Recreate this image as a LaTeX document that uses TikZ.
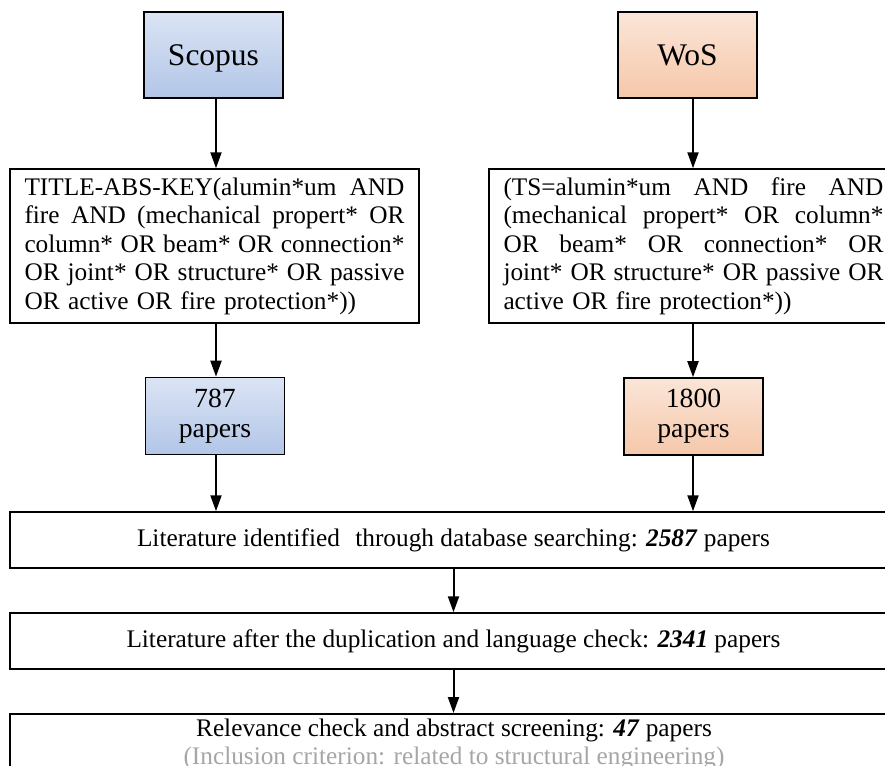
\documentclass[tikz,border=0pt]{standalone}
\usepackage{fontspec}
\setmainfont{Liberation Serif}
\usetikzlibrary{arrows.meta}
\definecolor{bluetop}{HTML}{EFF3FA}
\definecolor{bluedark}{HTML}{A9BFE5}
\definecolor{bluebot}{HTML}{BACCEA}
\definecolor{orgtop}{HTML}{FEF4EF}
\definecolor{orgdark}{HTML}{F4C19F}
\definecolor{orgbot}{HTML}{F7CFB5}
\definecolor{critgray}{HTML}{A6A6A6}
\pgfdeclareverticalshading{blueshade}{100bp}{color(0bp)=(bluebot); color(14bp)=(bluedark); color(100bp)=(bluetop)}
\pgfdeclareverticalshading{orgshade}{100bp}{color(0bp)=(orgbot); color(14bp)=(orgdark); color(100bp)=(orgtop)}
\newcommand\jline[1]{\makebox[380pt][s]{\spaceskip=0pt\xspaceskip=0pt\relax #1}}
\begin{document}
\begin{tikzpicture}[x=1pt,y=-1pt,
  srcbox/.style={draw=black, line width=1.6pt, minimum width=139pt, minimum height=86pt, inner sep=0pt,
    font=\fontsize{31.5}{34}\selectfont, text depth=0pt},
  bluefill/.style={shade, shading=blueshade},
  orgfill/.style={shade, shading=orgshade},
  qbox/.style={draw=black, line width=1.5pt, text width=380pt, inner xsep=14.5pt, inner ysep=0pt,
    minimum height=154pt, align=left, font=\fontsize{25.3}{28.5}\selectfont},
  cntbox/.style={draw=black, line width=1.6pt, minimum width=139pt, minimum height=77pt, inner sep=0pt,
    align=center, font=\fontsize{27.7}{30}\selectfont},
  widebox/.style={draw=black, line width=1.5pt, minimum width=887pt, minimum height=56pt, inner sep=0pt,
    font=\fontsize{25.3}{28}\selectfont},
  txt/.style={inner sep=0pt, font=\fontsize{25.3}{28}\selectfont},
  arr/.style={line width=2pt, -{Triangle[length=16pt,width=11pt]}}]
\path[use as bounding box] (0,0) rectangle (885,765);
\clip (0,0) rectangle (885,765);
% source boxes
\node[srcbox, bluefill] (scopus) at (213.5,55) {Scopus};
\node[srcbox, orgfill] (wos) at (687.5,55) {WoS};
% query boxes
\node[qbox] (q1) at (214.5,246) {\jline{TITLE-ABS-KEY(alumin*um AND}\\
\jline{fire AND (mechanical propert* OR}\\
\jline{column* OR beam* OR connection*}\\
\jline{OR joint* OR structure* OR passive}\\
OR active OR fire protection*))};
\node[qbox] (q2) at (693.5,246) {\jline{(TS=alumin*um AND fire AND}\\
\jline{(mechanical propert* OR column*}\\
\jline{OR beam* OR connection* OR}\\
\jline{joint* OR structure* OR passive OR}\\
active OR fire protection*))};
% count boxes
\node[cntbox, bluefill] (n787) at (215,416) {787\\papers};
\node[cntbox, orgfill] (n1800) at (693.5,416.5) {1800\\papers};
% wide boxes
\node[widebox] (lit1) at (453.5,540) {Literature identified\hspace{9pt} through database searching: \textbf{\textit{2587}} papers};
\node[widebox] (lit2) at (453.5,641) {Literature after the duplication and language check: \textbf{\textit{2341}} papers};
\node[widebox, minimum height=120pt, anchor=north] (lit3) at (453.5,713) {};
\node[txt, anchor=base] (lit3a) at (454,736) {Relevance check and abstract screening: \textbf{\textit{47}} papers};
\node[txt, anchor=base, text=critgray] (lit3b) at (454,764.5) {(Inclusion criterion: related to structural engineering)};
% arrow columns
\coordinate (cx1) at (216,0);
\coordinate (cx2) at (693,0);
\draw[arr] (scopus.south -| cx1) -- (q1.north -| cx1);
\draw[arr] (q1.south -| cx1) -- (n787.north -| cx1);
\draw[arr] (n787.south -| cx1) -- (lit1.north -| cx1);
\draw[arr] (wos.south -| cx2) -- (q2.north -| cx2);
\draw[arr] (q2.south -| cx2) -- (n1800.north -| cx2);
\draw[arr] (n1800.south -| cx2) -- (lit1.north -| cx2);
\draw[arr] (lit1.south) -- (lit2.north);
\draw[arr] (lit2.south) -- (lit3.north);
\end{tikzpicture}
\end{document}
